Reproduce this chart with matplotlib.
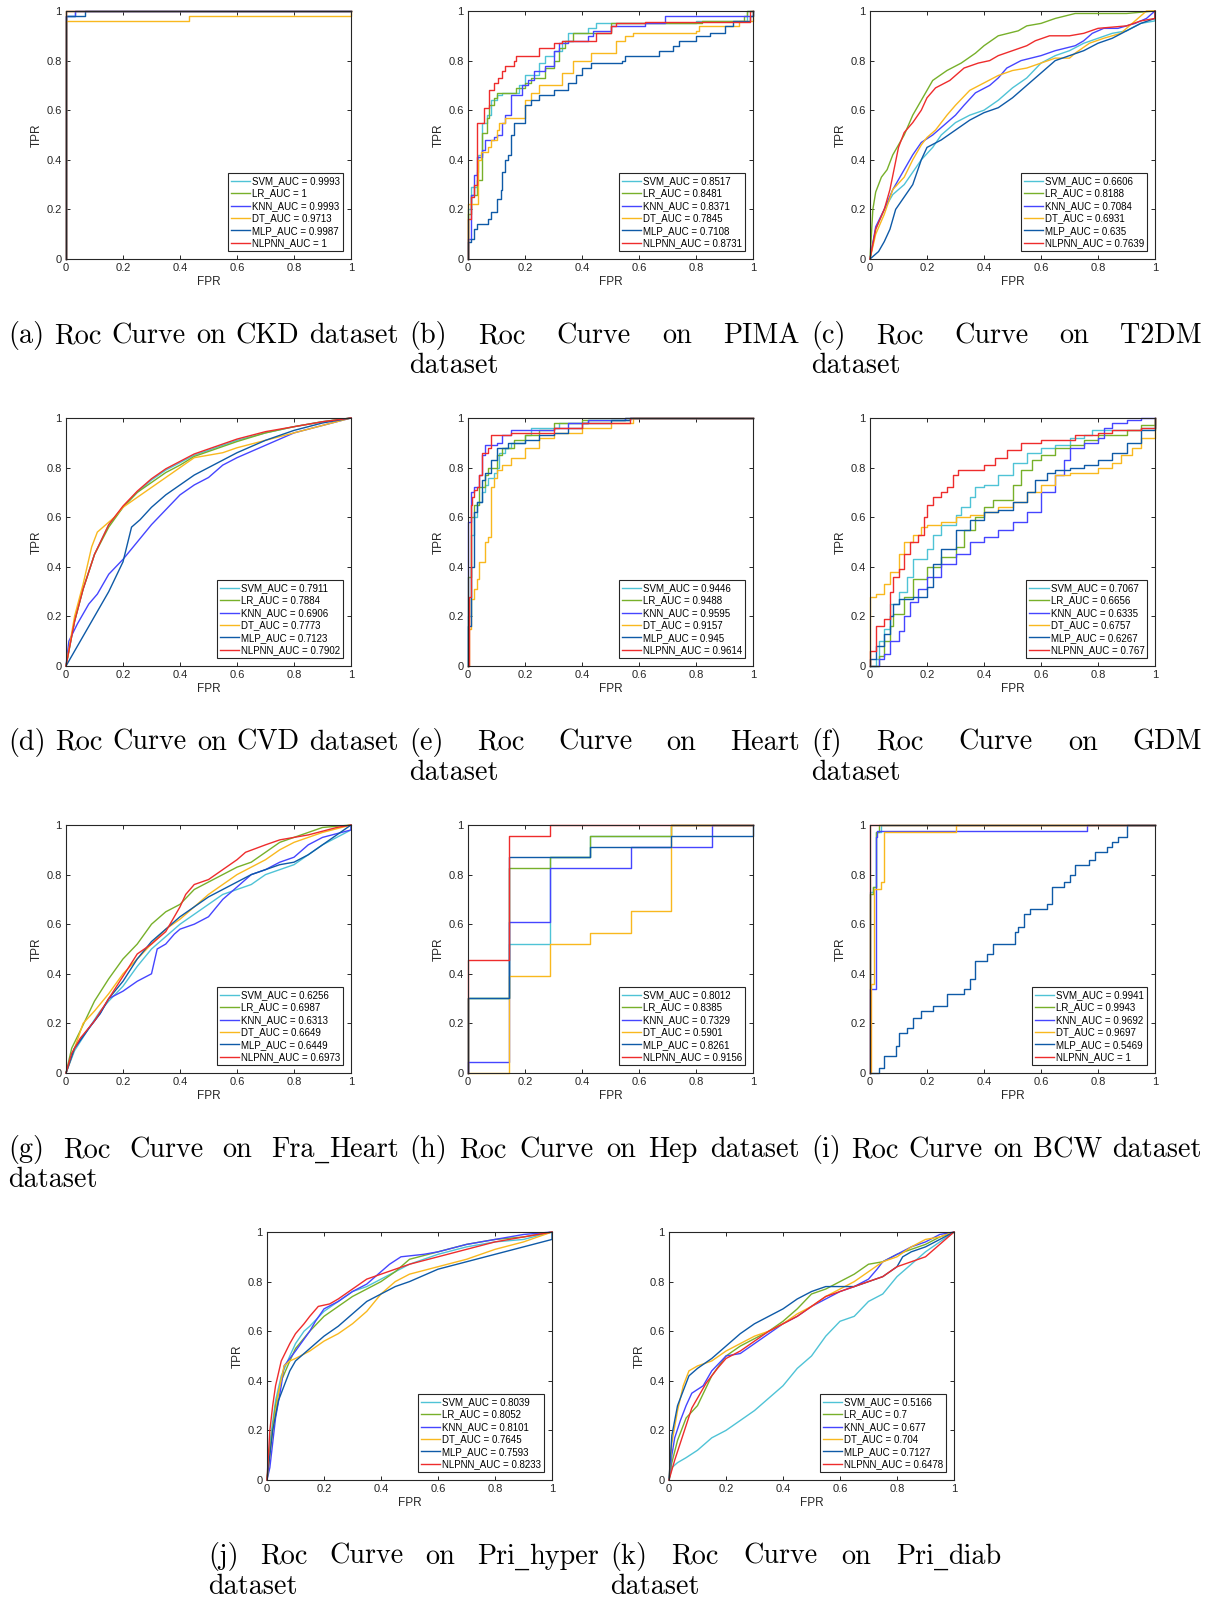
import numpy as np
import matplotlib
matplotlib.use("Agg")
import matplotlib.pyplot as plt

# ------------------------------------------------------------
# data (fpr, tpr) pairs
# ------------------------------------------------------------
models = ["SVM", "LR", "KNN", "DT", "MLP", "NLPNN"]
colors = ["#4FC3D6", "#77B02A", "#4545FF", "#F9B81E", "#0E5AA7", "#EE2C2C"]
tick_vals = [0, 0.2, 0.4, 0.6, 0.8, 1]
tick_labels = ["0", "0.2", "0.4", "0.6", "0.8", "1"]

# (a) CKD - steps
ckd_auc = ["0.9993", "1", "0.9993", "0.9713", "0.9987", "1"]
ckd_svm = [(0, 0), (0, 0.98), (0.033, 1), (1, 1)]
ckd_lr = [(0, 0), (0, 1), (1, 1)]
ckd_knn = [(0, 0), (0, 0.98), (0.033, 1), (1, 1)]
ckd_dt = [(0, 0), (0, 0.96), (0.43, 0.98), (1, 1)]
ckd_mlp = [(0, 0), (0, 0.98), (0.067, 1), (1, 1)]
ckd_nlpnn = [(0, 0), (0, 1), (1, 1)]

# (b) PIMA - steps
pima_auc = ["0.8517", "0.8481", "0.8371", "0.7845", "0.7108", "0.8731"]
pima_svm = [(0, 0), (0, 0.2), (0.01, 0.29), (0.03, 0.35), (0.035, 0.42), (0.05, 0.55), (0.065, 0.58),
            (0.08, 0.64), (0.1, 0.66), (0.12, 0.67), (0.18, 0.7), (0.2, 0.74), (0.25, 0.79), (0.27, 0.82),
            (0.3, 0.84), (0.33, 0.88), (0.35, 0.91), (0.42, 0.93), (0.45, 0.95), (0.8, 0.96), (0.98, 1), (1, 1)]
pima_lr = [(0, 0), (0, 0.18), (0.01, 0.26), (0.03, 0.32), (0.05, 0.51), (0.065, 0.57), (0.075, 0.62),
           (0.09, 0.65), (0.1, 0.67), (0.17, 0.69), (0.2, 0.71), (0.22, 0.73), (0.27, 0.77), (0.3, 0.8),
           (0.32, 0.85), (0.34, 0.88), (0.37, 0.91), (0.5, 0.95), (0.82, 0.96), (0.97, 0.98), (0.98, 1), (1, 1)]
pima_knn = [(0, 0), (0, 0.08), (0.01, 0.26), (0.02, 0.34), (0.03, 0.41), (0.05, 0.44), (0.06, 0.48),
            (0.09, 0.49), (0.1, 0.5), (0.12, 0.55), (0.13, 0.58), (0.15, 0.66), (0.19, 0.7), (0.21, 0.72),
            (0.23, 0.76), (0.27, 0.78), (0.3, 0.84), (0.32, 0.87), (0.35, 0.88), (0.42, 0.9), (0.44, 0.92),
            (0.5, 0.94), (0.62, 0.95), (0.69, 0.98), (1, 1)]
pima_dt = [(0, 0), (0, 0.22), (0.035, 0.4), (0.045, 0.43), (0.07, 0.45), (0.08, 0.48), (0.1, 0.52),
           (0.11, 0.55), (0.13, 0.57), (0.2, 0.64), (0.22, 0.67), (0.25, 0.7), (0.33, 0.75), (0.37, 0.8),
           (0.43, 0.83), (0.52, 0.88), (0.55, 0.9), (0.58, 0.91), (0.8, 0.92), (0.81, 0.94), (0.95, 0.96),
           (1, 0.97), (1, 1)]
pima_mlp = [(0, 0), (0, 0.07), (0.01, 0.08), (0.02, 0.12), (0.03, 0.14), (0.07, 0.16), (0.08, 0.19),
            (0.1, 0.24), (0.115, 0.28), (0.12, 0.35), (0.13, 0.4), (0.14, 0.42), (0.15, 0.5), (0.16, 0.55),
            (0.2, 0.62), (0.22, 0.64), (0.25, 0.66), (0.3, 0.68), (0.35, 0.71), (0.38, 0.74), (0.4, 0.77),
            (0.43, 0.79), (0.54, 0.8), (0.55, 0.82), (0.67, 0.84), (0.72, 0.86), (0.74, 0.88), (0.8, 0.9),
            (0.85, 0.91), (0.9, 0.94), (0.93, 0.96), (0.99, 0.98), (1, 1)]
pima_nlpnn = [(0, 0), (0, 0.16), (0.01, 0.25), (0.02, 0.3), (0.03, 0.55), (0.055, 0.61), (0.075, 0.68),
              (0.09, 0.71), (0.105, 0.73), (0.12, 0.76), (0.13, 0.78), (0.16, 0.8), (0.17, 0.82),
              (0.25, 0.85), (0.3, 0.87), (0.33, 0.88), (0.45, 0.91), (0.5, 0.94), (0.52, 0.95),
              (0.62, 0.955), (0.99, 1), (1, 1)]

# (c) T2DM - lines
t2dm_auc = ["0.6606", "0.8188", "0.7084", "0.6931", "0.635", "0.7639"]
t2dm_svm = [(0, 0), (0.02, 0.12), (0.05, 0.2), (0.08, 0.26), (0.12, 0.3), (0.15, 0.35), (0.18, 0.4),
            (0.22, 0.45), (0.25, 0.5), (0.3, 0.55), (0.35, 0.58), (0.4, 0.6), (0.45, 0.64), (0.5, 0.69),
            (0.55, 0.73), (0.6, 0.79), (0.65, 0.82), (0.7, 0.84), (0.75, 0.87), (0.8, 0.89), (0.85, 0.91),
            (0.9, 0.92), (0.95, 0.95), (1, 0.96), (1, 1)]
t2dm_lr = [(0, 0), (0.01, 0.2), (0.02, 0.27), (0.04, 0.33), (0.06, 0.36), (0.08, 0.42), (0.1, 0.46),
           (0.12, 0.5), (0.15, 0.58), (0.17, 0.62), (0.2, 0.68), (0.22, 0.72), (0.27, 0.76), (0.32, 0.79),
           (0.37, 0.83), (0.4, 0.86), (0.45, 0.9), (0.52, 0.92), (0.55, 0.94), (0.6, 0.95), (0.65, 0.97),
           (0.72, 0.99), (0.9, 0.99), (1, 1)]
t2dm_knn = [(0, 0), (0.02, 0.13), (0.05, 0.2), (0.08, 0.28), (0.12, 0.36), (0.15, 0.42), (0.18, 0.47),
            (0.22, 0.5), (0.27, 0.55), (0.3, 0.58), (0.33, 0.62), (0.37, 0.67), (0.42, 0.7), (0.45, 0.73),
            (0.48, 0.77), (0.53, 0.8), (0.6, 0.82), (0.65, 0.84), (0.72, 0.86), (0.75, 0.88), (0.78, 0.91),
            (0.82, 0.93), (0.87, 0.93), (0.93, 0.95), (0.97, 0.97), (1, 1)]
t2dm_dt = [(0, 0), (0.02, 0.1), (0.05, 0.18), (0.08, 0.28), (0.12, 0.33), (0.15, 0.4), (0.18, 0.46),
           (0.2, 0.49), (0.23, 0.52), (0.27, 0.58), (0.3, 0.62), (0.35, 0.68), (0.4, 0.71), (0.45, 0.74),
           (0.5, 0.76), (0.55, 0.77), (0.6, 0.79), (0.65, 0.81), (0.7, 0.81), (0.72, 0.83), (0.77, 0.87),
           (0.82, 0.89), (0.88, 0.91), (0.93, 0.96), (0.97, 1.0), (1, 1)]
t2dm_mlp = [(0, 0), (0.03, 0.03), (0.05, 0.07), (0.07, 0.12), (0.09, 0.2), (0.12, 0.25), (0.15, 0.3),
            (0.18, 0.4), (0.2, 0.45), (0.25, 0.48), (0.3, 0.52), (0.35, 0.56), (0.4, 0.59), (0.45, 0.61),
            (0.5, 0.65), (0.55, 0.7), (0.6, 0.75), (0.65, 0.8), (0.7, 0.82), (0.75, 0.84), (0.8, 0.87),
            (0.85, 0.89), (0.9, 0.92), (0.95, 0.95), (1, 0.97), (1, 1)]
t2dm_nlpnn = [(0, 0), (0.02, 0.12), (0.05, 0.2), (0.07, 0.28), (0.1, 0.45), (0.12, 0.51), (0.15, 0.55),
              (0.18, 0.6), (0.2, 0.65), (0.23, 0.69), (0.28, 0.72), (0.33, 0.77), (0.38, 0.79), (0.42, 0.8),
              (0.45, 0.82), (0.5, 0.84), (0.55, 0.86), (0.58, 0.88), (0.63, 0.9), (0.7, 0.9), (0.75, 0.91),
              (0.8, 0.93), (0.9, 0.94), (0.95, 0.96), (1, 0.97), (1, 1)]

# (d) CVD - lines
cvd_auc = ["0.7911", "0.7884", "0.6906", "0.7773", "0.7123", "0.7902"]
cvd_svm = [(0, 0), (0.03, 0.18), (0.06, 0.31), (0.1, 0.45), (0.15, 0.57), (0.2, 0.64), (0.25, 0.7),
           (0.3, 0.75), (0.35, 0.79), (0.4, 0.82), (0.45, 0.85), (0.5, 0.87), (0.6, 0.91), (0.7, 0.94),
           (0.8, 0.965), (0.9, 0.985), (1, 1)]
cvd_lr = [(0, 0), (0.03, 0.18), (0.06, 0.31), (0.1, 0.45), (0.15, 0.56), (0.2, 0.64), (0.25, 0.7),
          (0.3, 0.74), (0.35, 0.78), (0.4, 0.81), (0.45, 0.845), (0.5, 0.865), (0.6, 0.905), (0.7, 0.94),
          (0.8, 0.965), (0.9, 0.985), (1, 1)]
cvd_knn = [(0, 0), (0.01, 0.1), (0.04, 0.17), (0.08, 0.25), (0.11, 0.29), (0.15, 0.37), (0.2, 0.43),
           (0.25, 0.5), (0.3, 0.57), (0.35, 0.63), (0.4, 0.69), (0.45, 0.73), (0.5, 0.76), (0.55, 0.81),
           (0.6, 0.84), (0.7, 0.89), (0.8, 0.94), (0.9, 0.97), (1, 1)]
cvd_dt = [(0, 0), (0.03, 0.2), (0.06, 0.33), (0.09, 0.48), (0.11, 0.54), (0.14, 0.57), (0.17, 0.6),
          (0.2, 0.64), (0.25, 0.68), (0.3, 0.72), (0.35, 0.76), (0.4, 0.8), (0.45, 0.84), (0.5, 0.85),
          (0.55, 0.86), (0.6, 0.88), (0.7, 0.91), (0.8, 0.94), (0.9, 0.97), (1, 1)]
cvd_mlp = [(0, 0), (0.05, 0.1), (0.1, 0.2), (0.15, 0.3), (0.2, 0.42), (0.23, 0.56), (0.26, 0.59),
           (0.3, 0.64), (0.35, 0.69), (0.4, 0.73), (0.45, 0.77), (0.5, 0.8), (0.55, 0.83), (0.6, 0.86),
           (0.7, 0.91), (0.8, 0.95), (0.9, 0.98), (1, 1)]
cvd_nlpnn = [(0, 0), (0.03, 0.18), (0.06, 0.31), (0.1, 0.45), (0.15, 0.57), (0.2, 0.645), (0.25, 0.705),
             (0.3, 0.755), (0.35, 0.795), (0.4, 0.825), (0.45, 0.855), (0.5, 0.875), (0.6, 0.915),
             (0.7, 0.945), (0.8, 0.965), (0.9, 0.985), (1, 1)]

# (e) Heart - steps
heart_auc = ["0.9446", "0.9488", "0.9595", "0.9157", "0.945", "0.9614"]
heart_svm = [(0, 0), (0, 0.2), (0.01, 0.53), (0.02, 0.6), (0.03, 0.66), (0.05, 0.7), (0.06, 0.73),
             (0.07, 0.76), (0.09, 0.78), (0.1, 0.8), (0.11, 0.86), (0.13, 0.88), (0.15, 0.9), (0.2, 0.93),
             (0.22, 0.96), (0.32, 0.98), (0.42, 0.99), (0.57, 1), (1, 1)]
heart_lr = [(0, 0), (0, 0.36), (0.01, 0.6), (0.02, 0.65), (0.04, 0.72), (0.06, 0.77), (0.07, 0.8),
            (0.1, 0.85), (0.12, 0.88), (0.16, 0.91), (0.2, 0.93), (0.25, 0.95), (0.3, 0.98), (0.4, 0.99),
            (0.55, 1), (1, 1)]
heart_knn = [(0, 0), (0, 0.58), (0.01, 0.7), (0.02, 0.72), (0.04, 0.77), (0.05, 0.85), (0.06, 0.89),
             (0.1, 0.9), (0.12, 0.93), (0.15, 0.95), (0.3, 0.96), (0.35, 0.98), (0.42, 0.99), (0.55, 1), (1, 1)]
heart_dt = [(0, 0), (0.005, 0.15), (0.01, 0.27), (0.02, 0.31), (0.03, 0.35), (0.04, 0.42), (0.06, 0.5),
            (0.07, 0.52), (0.08, 0.72), (0.09, 0.76), (0.1, 0.79), (0.12, 0.81), (0.15, 0.84), (0.2, 0.88),
            (0.25, 0.92), (0.3, 0.94), (0.4, 0.96), (0.5, 0.98), (0.58, 1), (1, 1)]
heart_mlp = [(0, 0), (0, 0.16), (0.01, 0.4), (0.02, 0.62), (0.03, 0.66), (0.05, 0.75), (0.06, 0.78),
             (0.08, 0.83), (0.1, 0.88), (0.14, 0.9), (0.2, 0.91), (0.25, 0.93), (0.3, 0.94), (0.35, 0.96),
             (0.4, 0.98), (0.5, 0.99), (0.57, 1), (1, 1)]
heart_nlpnn = [(0, 0), (0.005, 0.28), (0.01, 0.65), (0.015, 0.68), (0.02, 0.71), (0.03, 0.72), (0.04, 0.77),
               (0.05, 0.86), (0.07, 0.88), (0.08, 0.93), (0.15, 0.94), (0.3, 0.96), (0.4, 0.98), (0.57, 1),
               (1, 1)]

# (f) GDM - steps
gdm_auc = ["0.7067", "0.6656", "0.6335", "0.6757", "0.6267", "0.767"]
gdm_svm = [(0, 0), (0.02, 0.03), (0.03, 0.1), (0.05, 0.15), (0.07, 0.25), (0.1, 0.3), (0.13, 0.36),
           (0.15, 0.43), (0.2, 0.47), (0.22, 0.53), (0.25, 0.57), (0.3, 0.61), (0.32, 0.64), (0.35, 0.68),
           (0.37, 0.72), (0.4, 0.73), (0.45, 0.77), (0.5, 0.82), (0.55, 0.86), (0.6, 0.88), (0.65, 0.89),
           (0.7, 0.92), (0.75, 0.93), (0.78, 0.95), (0.95, 0.96), (1, 1)]
gdm_lr = [(0, 0), (0.03, 0.04), (0.05, 0.1), (0.07, 0.16), (0.08, 0.21), (0.12, 0.28), (0.15, 0.35),
          (0.2, 0.4), (0.25, 0.44), (0.3, 0.48), (0.33, 0.55), (0.37, 0.6), (0.4, 0.64), (0.43, 0.67),
          (0.5, 0.73), (0.53, 0.79), (0.57, 0.83), (0.6, 0.85), (0.65, 0.88), (0.7, 0.89), (0.75, 0.91),
          (0.8, 0.93), (0.9, 0.95), (0.95, 0.97), (1, 1)]
gdm_knn = [(0, 0), (0.03, 0.03), (0.05, 0.05), (0.07, 0.1), (0.1, 0.14), (0.12, 0.2), (0.14, 0.26),
           (0.17, 0.31), (0.2, 0.36), (0.25, 0.41), (0.3, 0.45), (0.35, 0.5), (0.4, 0.52), (0.45, 0.55),
           (0.5, 0.58), (0.55, 0.62), (0.6, 0.7), (0.65, 0.77), (0.68, 0.83), (0.7, 0.88), (0.75, 0.9),
           (0.8, 0.92), (0.82, 0.96), (0.85, 0.98), (0.9, 0.99), (0.95, 1), (1, 1)]
gdm_dt = [(0, 0), (0, 0.28), (0.02, 0.29), (0.05, 0.33), (0.07, 0.38), (0.1, 0.45), (0.12, 0.5),
          (0.15, 0.53), (0.18, 0.56), (0.2, 0.57), (0.25, 0.58), (0.3, 0.6), (0.35, 0.61), (0.4, 0.62),
          (0.45, 0.64), (0.5, 0.66), (0.55, 0.7), (0.6, 0.73), (0.65, 0.77), (0.7, 0.78), (0.8, 0.8),
          (0.85, 0.82), (0.88, 0.85), (0.92, 0.88), (0.95, 0.92), (1, 0.96), (1, 1)]
gdm_mlp = [(0, 0), (0, 0.03), (0.02, 0.08), (0.05, 0.13), (0.07, 0.2), (0.08, 0.25), (0.1, 0.27),
           (0.15, 0.28), (0.2, 0.32), (0.22, 0.41), (0.25, 0.47), (0.3, 0.55), (0.35, 0.59), (0.4, 0.62),
           (0.45, 0.63), (0.5, 0.66), (0.55, 0.7), (0.58, 0.75), (0.62, 0.78), (0.65, 0.79), (0.7, 0.8),
           (0.75, 0.81), (0.8, 0.83), (0.85, 0.86), (0.9, 0.9), (0.95, 0.95), (1, 0.98), (1, 1)]
gdm_nlpnn = [(0, 0), (0, 0.06), (0.02, 0.16), (0.05, 0.19), (0.07, 0.3), (0.08, 0.36), (0.1, 0.39),
             (0.12, 0.45), (0.14, 0.5), (0.17, 0.53), (0.19, 0.6), (0.2, 0.65), (0.22, 0.68), (0.25, 0.7),
             (0.27, 0.72), (0.29, 0.77), (0.31, 0.79), (0.4, 0.81), (0.44, 0.84), (0.48, 0.87),
             (0.53, 0.9), (0.6, 0.91), (0.72, 0.93), (0.8, 0.94), (0.85, 0.95), (0.95, 0.96), (1, 1)]

# (g) Fra_Heart - lines
fra_auc = ["0.6256", "0.6987", "0.6313", "0.6649", "0.6449", "0.6973"]
fra_svm = [(0, 0), (0.03, 0.09), (0.08, 0.18), (0.12, 0.25), (0.15, 0.29), (0.2, 0.35), (0.25, 0.43),
           (0.3, 0.5), (0.35, 0.55), (0.4, 0.6), (0.45, 0.64), (0.5, 0.68), (0.55, 0.72), (0.6, 0.74),
           (0.65, 0.76), (0.7, 0.8), (0.75, 0.82), (0.8, 0.84), (0.85, 0.88), (0.9, 0.92), (0.95, 0.95),
           (1, 0.98), (1, 1)]
fra_lr = [(0, 0), (0.02, 0.1), (0.05, 0.17), (0.1, 0.29), (0.15, 0.38), (0.2, 0.46), (0.25, 0.52),
          (0.3, 0.6), (0.35, 0.65), (0.4, 0.68), (0.45, 0.74), (0.5, 0.77), (0.55, 0.8), (0.6, 0.83),
          (0.65, 0.85), (0.7, 0.89), (0.75, 0.93), (0.8, 0.95), (0.9, 0.99), (1, 1)]
fra_knn = [(0, 0), (0.03, 0.1), (0.08, 0.18), (0.12, 0.24), (0.15, 0.3), (0.2, 0.33), (0.25, 0.37),
           (0.3, 0.4), (0.32, 0.5), (0.35, 0.52), (0.38, 0.56), (0.4, 0.58), (0.45, 0.6), (0.5, 0.63),
           (0.55, 0.7), (0.6, 0.75), (0.65, 0.8), (0.7, 0.82), (0.75, 0.85), (0.8, 0.87), (0.85, 0.92),
           (0.9, 0.95), (1, 0.98), (1, 1)]
fra_dt = [(0, 0), (0.03, 0.1), (0.06, 0.2), (0.1, 0.25), (0.15, 0.32), (0.2, 0.4), (0.25, 0.46),
          (0.3, 0.52), (0.35, 0.58), (0.4, 0.62), (0.45, 0.67), (0.5, 0.72), (0.55, 0.76), (0.6, 0.8),
          (0.65, 0.83), (0.7, 0.86), (0.75, 0.9), (0.8, 0.93), (0.85, 0.95), (0.9, 0.97), (1, 1)]
fra_mlp = [(0, 0), (0.03, 0.1), (0.08, 0.18), (0.12, 0.24), (0.15, 0.3), (0.2, 0.37), (0.25, 0.46),
           (0.3, 0.53), (0.35, 0.58), (0.4, 0.63), (0.45, 0.67), (0.5, 0.71), (0.55, 0.74), (0.6, 0.77),
           (0.65, 0.8), (0.7, 0.82), (0.75, 0.84), (0.8, 0.85), (0.85, 0.88), (0.9, 0.92), (0.95, 0.96),
           (1, 1)]
fra_nlpnn = [(0, 0), (0.02, 0.08), (0.05, 0.14), (0.1, 0.21), (0.15, 0.3), (0.2, 0.39), (0.25, 0.48),
             (0.3, 0.52), (0.35, 0.57), (0.4, 0.67), (0.42, 0.72), (0.45, 0.76), (0.5, 0.78), (0.55, 0.82),
             (0.6, 0.86), (0.63, 0.89), (0.7, 0.92), (0.75, 0.94), (0.85, 0.96), (0.95, 0.99), (1, 1)]

# (h) Hep - steps
hep_auc = ["0.8012", "0.8385", "0.7329", "0.5901", "0.8261", "0.9156"]
hep_svm = [(0, 0), (0, 0.304), (0.143, 0.52), (0.286, 0.87), (0.429, 0.957), (0.714, 1), (1, 1)]
hep_lr = [(0, 0), (0, 0.304), (0.143, 0.826), (0.286, 0.87), (0.429, 0.957), (0.714, 1), (1, 1)]
hep_knn = [(0, 0), (0, 0.045), (0.143, 0.61), (0.286, 0.826), (0.571, 0.913), (0.857, 1), (1, 1)]
hep_dt = [(0, 0), (0.143, 0.39), (0.286, 0.52), (0.429, 0.565), (0.571, 0.652), (0.714, 1), (1, 1)]
hep_mlp = [(0, 0), (0, 0.304), (0.143, 0.87), (0.429, 0.913), (0.714, 0.957), (1, 1)]
hep_nlpnn = [(0, 0), (0, 0.455), (0.143, 0.955), (0.286, 1), (1, 1)]

# (i) BCW - steps
bcw_auc = ["0.9941", "0.9943", "0.9692", "0.9697", "0.5469", "1"]
bcw_svm = [(0, 0), (0, 0.73), (0.01, 0.75), (0.02, 0.97), (0.04, 1), (1, 1)]
bcw_lr = [(0, 0), (0, 0.72), (0.01, 0.75), (0.02, 0.97), (0.03, 1), (1, 1)]
bcw_knn = [(0, 0), (0, 0.34), (0.02, 0.95), (0.025, 0.977), (0.76, 1), (1, 1)]
bcw_dt = [(0, 0), (0.005, 0.36), (0.015, 0.74), (0.04, 0.77), (0.05, 0.97), (0.3, 1), (1, 1)]
bcw_mlp = [(0, 0), (0.03, 0.02), (0.05, 0.07), (0.09, 0.11), (0.1, 0.16), (0.13, 0.18), (0.15, 0.22),
           (0.18, 0.25), (0.22, 0.27), (0.27, 0.32), (0.33, 0.34), (0.35, 0.38), (0.37, 0.45), (0.41, 0.48),
           (0.43, 0.52), (0.51, 0.57), (0.52, 0.59), (0.54, 0.64), (0.56, 0.66), (0.62, 0.68), (0.64, 0.75),
           (0.68, 0.77), (0.7, 0.8), (0.72, 0.84), (0.77, 0.86), (0.79, 0.89), (0.83, 0.91), (0.85, 0.93),
           (0.87, 0.95), (0.9, 1), (1, 1)]
bcw_nlpnn = [(0, 0), (0, 1), (1, 1)]

# (j) Pri_hyper - lines
hyper_auc = ["0.8039", "0.8052", "0.8101", "0.7645", "0.7593", "0.8233"]
hyper_svm = [(0, 0), (0.01, 0.15), (0.03, 0.32), (0.05, 0.42), (0.08, 0.5), (0.1, 0.55), (0.13, 0.6),
             (0.15, 0.62), (0.2, 0.68), (0.25, 0.72), (0.3, 0.76), (0.35, 0.78), (0.4, 0.81), (0.45, 0.84),
             (0.5, 0.87), (0.6, 0.91), (0.7, 0.94), (0.8, 0.96), (0.9, 0.97), (1, 1)]
hyper_lr = [(0, 0), (0.01, 0.12), (0.03, 0.3), (0.05, 0.4), (0.08, 0.48), (0.1, 0.53), (0.15, 0.6),
            (0.2, 0.66), (0.25, 0.7), (0.3, 0.74), (0.35, 0.77), (0.4, 0.8), (0.45, 0.84), (0.5, 0.89),
            (0.6, 0.92), (0.7, 0.95), (0.8, 0.97), (0.9, 0.98), (1, 1)]
hyper_knn = [(0, 0), (0.01, 0.05), (0.02, 0.15), (0.03, 0.25), (0.05, 0.38), (0.06, 0.46), (0.1, 0.52),
             (0.15, 0.6), (0.17, 0.64), (0.2, 0.69), (0.25, 0.72), (0.3, 0.76), (0.35, 0.79), (0.4, 0.84),
             (0.43, 0.87), (0.47, 0.9), (0.55, 0.91), (0.6, 0.92), (0.7, 0.95), (0.8, 0.97), (0.9, 0.99),
             (1, 1)]
hyper_dt = [(0, 0), (0.02, 0.2), (0.04, 0.35), (0.06, 0.46), (0.08, 0.48), (0.1, 0.49), (0.15, 0.52),
            (0.2, 0.56), (0.25, 0.59), (0.3, 0.63), (0.35, 0.68), (0.4, 0.75), (0.45, 0.8), (0.5, 0.83),
            (0.6, 0.86), (0.7, 0.89), (0.8, 0.93), (0.9, 0.96), (1, 1)]
hyper_mlp = [(0, 0), (0.02, 0.2), (0.04, 0.32), (0.06, 0.38), (0.08, 0.44), (0.1, 0.48), (0.15, 0.53),
             (0.2, 0.58), (0.25, 0.62), (0.3, 0.67), (0.35, 0.72), (0.4, 0.75), (0.45, 0.78), (0.5, 0.8),
             (0.6, 0.85), (0.7, 0.88), (0.8, 0.91), (0.9, 0.94), (1, 0.97), (1, 1)]
hyper_nlpnn = [(0, 0), (0.01, 0.2), (0.02, 0.3), (0.03, 0.38), (0.05, 0.48), (0.08, 0.55), (0.1, 0.59),
               (0.13, 0.63), (0.15, 0.66), (0.18, 0.7), (0.22, 0.71), (0.25, 0.73), (0.3, 0.77),
               (0.35, 0.81), (0.4, 0.83), (0.45, 0.85), (0.5, 0.87), (0.6, 0.9), (0.7, 0.93), (0.8, 0.96),
               (0.9, 0.98), (1, 1)]

# (k) Pri_diab - lines
diab_auc = ["0.5166", "0.7", "0.677", "0.704", "0.7127", "0.6478"]
diab_svm = [(0, 0), (0.01, 0.05), (0.03, 0.07), (0.06, 0.09), (0.1, 0.12), (0.15, 0.17), (0.2, 0.2),
            (0.25, 0.24), (0.3, 0.28), (0.35, 0.33), (0.4, 0.38), (0.45, 0.45), (0.5, 0.5), (0.55, 0.58),
            (0.6, 0.64), (0.65, 0.66), (0.7, 0.72), (0.75, 0.75), (0.8, 0.82), (0.85, 0.87), (0.9, 0.92),
            (0.95, 0.96), (1, 1)]
diab_lr = [(0, 0), (0.01, 0.07), (0.03, 0.16), (0.06, 0.25), (0.1, 0.3), (0.15, 0.42), (0.2, 0.5),
           (0.25, 0.54), (0.3, 0.57), (0.35, 0.6), (0.4, 0.64), (0.45, 0.69), (0.5, 0.75), (0.55, 0.77),
           (0.6, 0.8), (0.65, 0.83), (0.7, 0.87), (0.75, 0.88), (0.8, 0.91), (0.85, 0.93), (0.9, 0.95),
           (0.95, 0.98), (1, 1)]
diab_knn = [(0, 0), (0.01, 0.1), (0.02, 0.17), (0.04, 0.24), (0.06, 0.3), (0.08, 0.35), (0.12, 0.38),
            (0.15, 0.44), (0.2, 0.5), (0.25, 0.51), (0.3, 0.55), (0.35, 0.59), (0.4, 0.63), (0.45, 0.66),
            (0.5, 0.7), (0.55, 0.73), (0.6, 0.76), (0.65, 0.78), (0.7, 0.81), (0.73, 0.85), (0.75, 0.88),
            (0.8, 0.91), (0.85, 0.94), (0.9, 0.96), (0.95, 0.99), (1, 1)]
diab_dt = [(0, 0), (0.01, 0.15), (0.03, 0.28), (0.05, 0.38), (0.07, 0.44), (0.1, 0.46), (0.15, 0.48),
           (0.2, 0.52), (0.25, 0.55), (0.3, 0.58), (0.35, 0.6), (0.4, 0.63), (0.45, 0.67), (0.5, 0.7),
           (0.55, 0.74), (0.6, 0.77), (0.65, 0.8), (0.7, 0.84), (0.75, 0.88), (0.8, 0.9), (0.85, 0.94),
           (0.9, 0.97), (0.95, 0.98), (1, 1)]
diab_mlp = [(0, 0), (0.01, 0.18), (0.03, 0.3), (0.05, 0.36), (0.07, 0.42), (0.1, 0.45), (0.15, 0.49),
            (0.2, 0.54), (0.25, 0.59), (0.3, 0.63), (0.35, 0.66), (0.4, 0.69), (0.45, 0.73), (0.5, 0.76),
            (0.55, 0.78), (0.6, 0.78), (0.65, 0.78), (0.7, 0.8), (0.75, 0.82), (0.8, 0.86), (0.82, 0.9),
            (0.85, 0.92), (0.9, 0.94), (0.95, 0.97), (1, 1)]
diab_nlpnn = [(0, 0), (0.02, 0.08), (0.04, 0.15), (0.06, 0.22), (0.08, 0.29), (0.1, 0.33), (0.13, 0.39),
              (0.17, 0.45), (0.2, 0.49), (0.25, 0.52), (0.3, 0.56), (0.35, 0.6), (0.4, 0.63), (0.45, 0.66),
              (0.5, 0.7), (0.55, 0.74), (0.6, 0.76), (0.65, 0.78), (0.7, 0.8), (0.75, 0.82), (0.8, 0.86),
              (0.85, 0.88), (0.9, 0.9), (0.95, 0.95), (1, 1)]

# captions (line breaks as in the reference)
cap_a = ["(a) Roc Curve on CKD dataset"]
cap_b = ["(b) Roc Curve on PIMA", "dataset"]
cap_c = ["(c) Roc Curve on T2DM", "dataset"]
cap_d = ["(d) Roc Curve on CVD dataset"]
cap_e = ["(e) Roc Curve on Heart", "dataset"]
cap_f = ["(f) Roc Curve on GDM", "dataset"]
cap_g = ["(g) Roc Curve on Fra_Heart", "dataset"]
cap_h = ["(h) Roc Curve on Hep dataset"]
cap_i = ["(i) Roc Curve on BCW dataset"]
cap_j = ["(j) Roc Curve on Pri_hyper", "dataset"]
cap_k = ["(k) Roc Curve on Pri_diab", "dataset"]

# ------------------------------------------------------------
# layout (pixels in a 1220 x 1599 canvas)
# ------------------------------------------------------------
W, H = 1220, 1599
AX_W, AX_H = 285, 248
COL_X = [66, 468, 870]
ROW_BOTTOM = [259, 666, 1073, 1480]
CAP_X = [8, 409, 811]
CAP_W = 391
CAP_BASE = [343, 750, 1157, 1564]

panels = [
    ([ckd_svm, ckd_lr, ckd_knn, ckd_dt, ckd_mlp, ckd_nlpnn], ckd_auc, True, cap_a, 0, COL_X[0], CAP_X[0]),
    ([pima_svm, pima_lr, pima_knn, pima_dt, pima_mlp, pima_nlpnn], pima_auc, True, cap_b, 0, COL_X[1], CAP_X[1]),
    ([t2dm_svm, t2dm_lr, t2dm_knn, t2dm_dt, t2dm_mlp, t2dm_nlpnn], t2dm_auc, False, cap_c, 0, COL_X[2], CAP_X[2]),
    ([cvd_svm, cvd_lr, cvd_knn, cvd_dt, cvd_mlp, cvd_nlpnn], cvd_auc, False, cap_d, 1, COL_X[0], CAP_X[0]),
    ([heart_svm, heart_lr, heart_knn, heart_dt, heart_mlp, heart_nlpnn], heart_auc, True, cap_e, 1, COL_X[1], CAP_X[1]),
    ([gdm_svm, gdm_lr, gdm_knn, gdm_dt, gdm_mlp, gdm_nlpnn], gdm_auc, True, cap_f, 1, COL_X[2], CAP_X[2]),
    ([fra_svm, fra_lr, fra_knn, fra_dt, fra_mlp, fra_nlpnn], fra_auc, False, cap_g, 2, COL_X[0], CAP_X[0]),
    ([hep_svm, hep_lr, hep_knn, hep_dt, hep_mlp, hep_nlpnn], hep_auc, True, cap_h, 2, COL_X[1], CAP_X[1]),
    ([bcw_svm, bcw_lr, bcw_knn, bcw_dt, bcw_mlp, bcw_nlpnn], bcw_auc, True, cap_i, 2, COL_X[2], CAP_X[2]),
    ([hyper_svm, hyper_lr, hyper_knn, hyper_dt, hyper_mlp, hyper_nlpnn], hyper_auc, False, cap_j, 3, 267, 208),
    ([diab_svm, diab_lr, diab_knn, diab_dt, diab_mlp, diab_nlpnn], diab_auc, False, cap_k, 3, 669, 610),
]

plt.rcParams["font.family"] = ["Liberation Sans", "DejaVu Sans"]

fig = plt.figure(figsize=(W / 100, H / 100), dpi=100)
fig.patch.set_facecolor("white")
renderer = fig.canvas.get_renderer()

CAP_FONT = ["cmr10"]
US_FONT = ["DejaVu Serif"]

# size the caption font so that the one-line caption (a) has its natural width
_probe = fig.text(0, 0, cap_a[0], fontsize=20, family=CAP_FONT)
CAP_SIZE = 20 * 388 / _probe.get_window_extent(renderer=renderer).width
_probe.remove()


def place_word(word, y):
    # returns list of text pieces and the total width of the word
    pieces = []
    parts = word.split("_")
    for pi, part in enumerate(parts):
        if pi > 0:
            pieces.append(fig.text(0, y, "_", fontsize=CAP_SIZE, family=US_FONT,
                                   va="baseline", ha="left"))
        if part:
            pieces.append(fig.text(0, y, part, fontsize=CAP_SIZE, family=CAP_FONT,
                                   va="baseline", ha="left"))
    widths = [p.get_window_extent(renderer=renderer).width for p in pieces]
    return pieces, widths


def caption(lines, x0, base):
    for li, line in enumerate(lines):
        y = 1 - (base + 30 * li) / H
        words = [place_word(w, y) for w in line.split(" ")]
        totals = [sum(ws) for _, ws in words]
        gap = (CAP_W - sum(totals)) / (len(words) - 1) if len(words) > 1 else 0
        x = x0
        for (pieces, ws), tot in zip(words, totals):
            xx = x
            for p, w in zip(pieces, ws):
                p.set_x(xx / W)
                xx += w
            x += tot + gap


for curves, aucs, steps, cap, row, ax_x, cap_x in panels:
    bottom = ROW_BOTTOM[row]
    ax = fig.add_axes([ax_x / W, 1 - bottom / H, AX_W / W, AX_H / H])
    for pts, name, col, auc in zip(curves, models, colors, aucs):
        arr = np.array(pts, dtype=float)
        ax.plot(arr[:, 0], arr[:, 1], color=col, lw=1.0,
                drawstyle="steps-post" if steps else "default",
                label=f"{name}_AUC = {auc}", clip_on=False)
    ax.set_xlim(0, 1)
    ax.set_ylim(0, 1)
    ax.set_xticks(tick_vals)
    ax.set_xticklabels(tick_labels)
    ax.set_yticks(tick_vals)
    ax.set_yticklabels(tick_labels)
    ax.tick_params(direction="in", length=3, width=0.7, labelsize=8, pad=3,
                   top=True, right=True, colors="#262626")
    for s in ax.spines.values():
        s.set_linewidth(0.8)
        s.set_color("#262626")
    ax.set_xlabel("FPR", fontsize=8.5, labelpad=2, color="#262626")
    ax.set_ylabel("TPR", fontsize=8.5, labelpad=3, color="#262626")
    leg = ax.legend(loc="lower right", fontsize=7, fancybox=False, framealpha=1,
                    edgecolor="#262626", borderaxespad=0.8, handlelength=2.0,
                    handletextpad=0.2, labelspacing=0.25, borderpad=0.3)
    leg.get_frame().set_linewidth(0.8)
    caption(cap, cap_x, CAP_BASE[row])

fig.savefig("out.png", dpi=100, facecolor="white")
